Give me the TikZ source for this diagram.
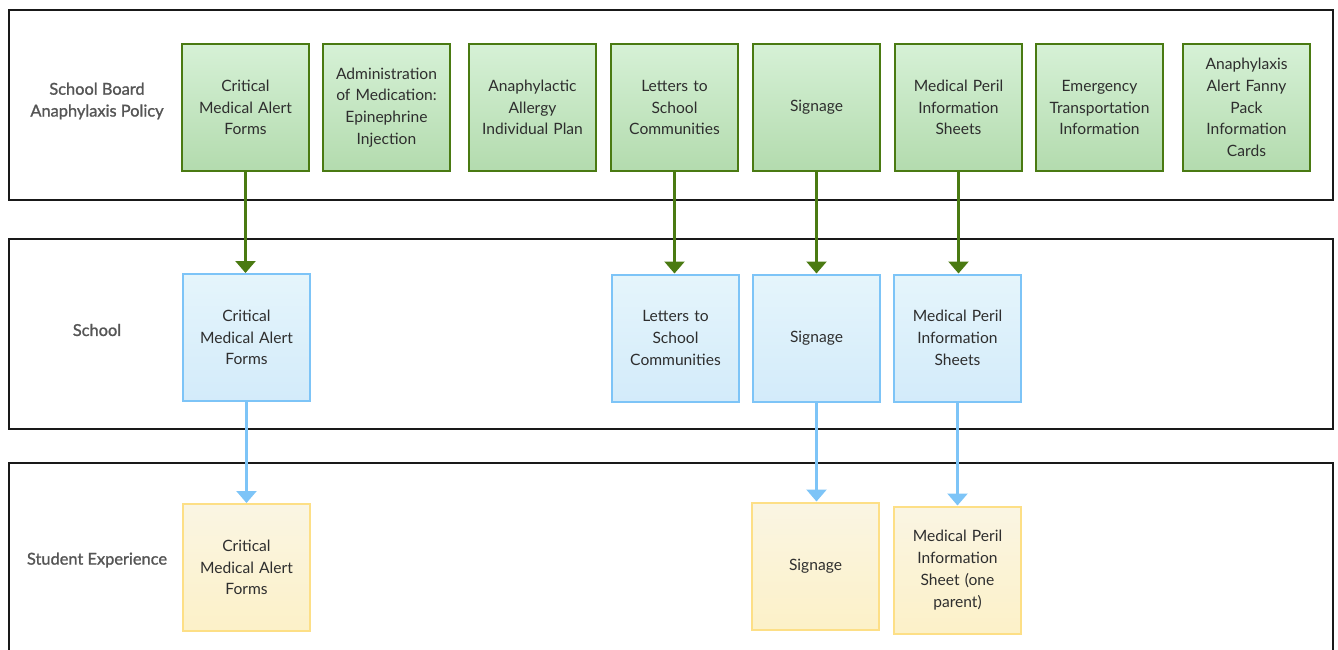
\documentclass[tikz,border=0pt]{standalone}
\usepackage{fontspec}
\setmainfont{Lato}
\newfontfamily\lanefont[FakeBold=1.2]{Lato}
\usetikzlibrary{arrows.meta}
\definecolor{gborder}{HTML}{4A7A12}
\definecolor{gtop}{HTML}{D6F1D6}
\definecolor{gbot}{HTML}{B3DBAE}
\definecolor{bborder}{HTML}{7DC4F7}
\definecolor{btop}{HTML}{E5F5FB}
\definecolor{bbot}{HTML}{D3EBFA}
\definecolor{yborder}{HTML}{FDDF86}
\definecolor{ytop}{HTML}{FAF5E3}
\definecolor{ybot}{HTML}{FCF1C8}
\definecolor{txt}{HTML}{2E2E2E}
\definecolor{lbl}{HTML}{555555}
\tikzset{
  x=1pt, y=-1pt,
  box/.style={rectangle, minimum width=127pt, minimum height=127pt, text width=122pt,
    align=center, inner sep=0pt, text=txt, font=\fontsize{15.6}{21.8}\selectfont},
  gbox/.style={box, draw=gborder, line width=2.6pt, top color=gtop, bottom color=gbot},
  bbox/.style={box, draw=bborder, line width=2pt, top color=btop, bottom color=bbot},
  ybox/.style={box, draw=yborder, line width=2pt, top color=ytop, bottom color=ybot},
  lane/.style={draw=black!90, line width=2pt},
  lanelabel/.style={align=center, text=lbl, font=\lanefont\fontsize{16.4}{21.8}\selectfont},
  garrow/.style={draw=gborder, line width=2.4pt, -{Triangle[width=20pt,length=12pt]}},
  barrow/.style={draw=bborder, line width=2.4pt, -{Triangle[width=20pt,length=12pt]}},
}
\begin{document}
\begin{tikzpicture}
\clip (0,0) rectangle (1338,650);
\fill[white] (0,0) rectangle (1338,650);
% lanes
\draw[lane] (9,10) rectangle (1333,200);
\draw[lane] (9,239) rectangle (1333,429);
\draw[lane] (9,463) rectangle (1333,700);
\node[lanelabel] (l1) at (97,101) {School Board\\Anaphylaxis Policy};
\node[lanelabel] (l2) at (97,330) {School};
\node[lanelabel] (l3) at (97,560) {Student Experience};
% top row
\node[gbox] (t1) at (245.5,107.5) {Critical\\Medical Alert\\Forms};
\node[gbox] (t2) at (386.5,107.5) {Administration\\of Medication:\\Epinephrine\\Injection};
\node[gbox] (t3) at (532.5,107.5) {Anaphylactic\\Allergy\\Individual Plan};
\node[gbox] (t4) at (674.5,107.5) {Letters to\\School\\Communities};
\node[gbox] (t5) at (816.5,107.5) {Signage};
\node[gbox] (t6) at (958.5,107.5) {Medical Peril\\Information\\Sheets};
\node[gbox] (t7) at (1099.5,107.5) {Emergency\\Transportation\\Information};
\node[gbox] (t8) at (1246.5,107.5) {Anaphylaxis\\Alert Fanny\\Pack\\Information\\Cards};
% middle row
\node[bbox] (m1) at (246.5,337.5) {Critical\\Medical Alert\\Forms};
\node[bbox] (m4) at (675.5,338) {Letters to\\School\\Communities};
\node[bbox] (m5) at (816.5,338) {Signage};
\node[bbox] (m6) at (957.5,338) {Medical Peril\\Information\\Sheets};
% bottom row
\node[ybox] (b1) at (246.5,567.5) {Critical\\Medical Alert\\Forms};
\node[ybox] (b5) at (815.5,566) {Signage};
\node[ybox] (b6) at (957.5,570) {Medical Peril\\Information\\Sheet (one\\parent)};
% arrows
\draw[garrow] (t1.south) -- (t1.south |- m1.north);
\draw[garrow] (t4.south) -- (t4.south |- m4.north);
\draw[garrow] (t5.south) -- (t5.south |- m5.north);
\draw[garrow] (t6.south) -- (t6.south |- m6.north);
\draw[barrow] (m1.south) -- (m1.south |- b1.north);
\draw[barrow] (m5.south) -- (m5.south |- b5.north);
\draw[barrow] (m6.south) -- (m6.south |- b6.north);
\end{tikzpicture}
\end{document}
